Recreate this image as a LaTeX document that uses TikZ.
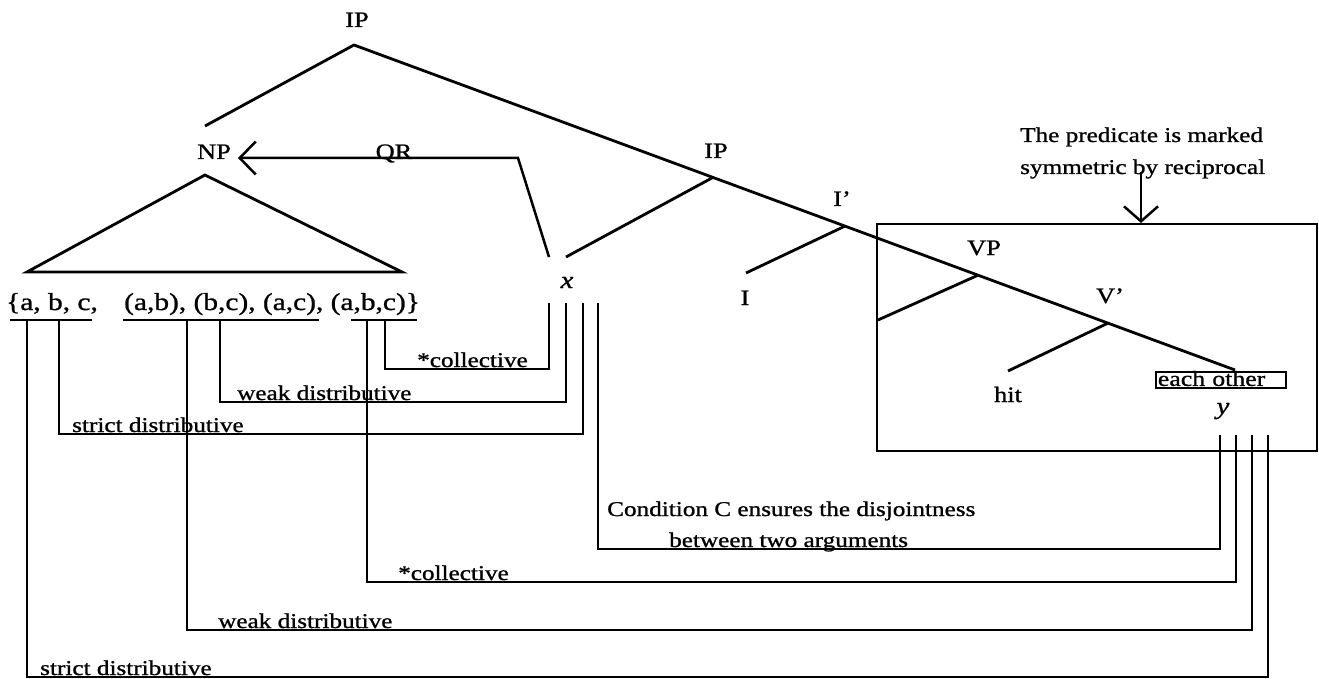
\documentclass[tikz,border=0pt]{standalone}
\usepackage{fontspec}
\setmainfont{Liberation Serif}[FakeStretch=1.2,FakeBold=1]
\usetikzlibrary{arrows.meta}
\newcommand\fsTree{\fontsize{22}{26}\selectfont}
\newcommand\fsSet{\fontsize{24.5}{28}\selectfont}
\newcommand\fsLab{\fontsize{21}{25}\selectfont}
\begin{document}
\begin{tikzpicture}[x=1pt,y=-1pt,
  tree/.style={line width=2.8pt},
  link/.style={line width=1.8pt},
  uline/.style={line width=2.4pt},
  lbl/.style={inner sep=0pt, anchor=base, font=\fsTree},
  note/.style={inner sep=0pt, anchor=base west, font=\fsLab},
  setrow/.style={inner sep=0pt, anchor=base west, font=\fsSet},
  barbarrow/.style={-{Straight Barb[length=16pt,width=33pt,line width=2.5pt]}}]
\useasboundingbox (0,0) rectangle (1319,679);
\fill[white] (0,0) rectangle (1319,679);

% ---------- tree ----------
\coordinate (A) at (354,45);
\coordinate (E) at (1235,370);
\coordinate (jIP) at (713,177.4);
\coordinate (jI) at (845,226.1);
\coordinate (jVP) at (978,275.2);
\coordinate (jV) at (1108,323.1);
\coordinate (npTop) at (205,126);
\coordinate (xTop) at (566,257);
\coordinate (iTop) at (746,273);
\coordinate (vpEnd) at (878,320);
\coordinate (hitTop) at (1008,371);

\node[lbl] (ipTop) at (357,27) {IP};
\node[lbl] (np) at (214,159) {NP};
\node[lbl] (ip2) at (716,158) {IP};
\node[lbl] (ibar) at (842,206) {I'};
\node[lbl] (vp) at (984,255) {VP};
\node[lbl] (vbar) at (1110,303) {V'};
\node[lbl] (ilab) at (745,305) {I};
\node[lbl] (hit) at (1008,402) {hit};
\node[lbl, font=\fontsize{24}{28}\selectfont\itshape] (xv) at (567,288) {x};
\node[lbl, font=\fontsize{24}{28}\selectfont\itshape] (yv) at (1223,414) {y};

\draw[tree, line join=round] (npTop) -- (A) -- (E);
\draw[tree] (jIP) -- (xTop);
\draw[tree] (jI) -- (iTop);
\draw[tree] (jVP) -- (vpEnd);
\draw[tree] (jV) -- (hitTop);

% NP triangle
\coordinate (tA) at (205,175);
\coordinate (tL) at (27,272);
\coordinate (tR) at (402,272);
\draw[tree, line join=miter] (tA) -- (tL) -- (tR) -- cycle;

% QR movement arrow
\coordinate (qrStart) at (549,257);
\coordinate (qrBend) at (518,158);
\coordinate (qrTip) at (238,158);
\draw[line width=2.5pt, barbarrow] (qrStart) -- (qrBend) -- (qrTip);
\node[lbl] (qr) at (394,159) {QR};

% box round the VP
\coordinate (boxNW) at (877,224);
\coordinate (boxSE) at (1317,451);
\draw[line width=2pt] (boxNW) rectangle (boxSE);

% note above the box
\node[note] (pred1) at (1020,142) {The predicate is marked};
\node[note] (pred2) at (1020,174) {symmetric by reciprocal};
\coordinate (predFrom) at (1141,172);
\coordinate (predTo) at (1141,223);
\draw[line width=2pt, -{Straight Barb[length=15pt,width=34pt,line width=2.5pt]}] (predFrom) -- (predTo);

% each other
\node[draw, line width=1.8pt, anchor=north west, inner xsep=2pt, inner ysep=0pt,
      text width=126pt, text height=14pt, text depth=2pt,
      font=\fontsize{21.5}{24}\selectfont] (eo) at (1155,371) {each other};

% ---------- set row ----------
\node[setrow] (s1) at (6,310) {\{a, b, c,};
\node[setrow] (s2) at (124,310) {(a,b), (b,c), (a,c), (a,b,c)\}};
\draw[uline] (10,320) -- (92,320);
\draw[uline] (123,320) -- (319,320);
\draw[uline] (351,320) -- (417,320);

% drop points
\coordinate (d1) at (27,320);
\coordinate (d2) at (59,320);
\coordinate (d3) at (187,320);
\coordinate (d4) at (220,320);
\coordinate (d5) at (367,320);
\coordinate (d6) at (385,320);
% x lines
\coordinate (xa) at (549,303);
\coordinate (xb) at (566,303);
\coordinate (xc) at (583,303);
\coordinate (xd) at (598,303);
% y lines
\coordinate (ya) at (1220,435);
\coordinate (yb) at (1236,435);
\coordinate (yc) at (1252,435);
\coordinate (yd) at (1268,435);
% levels
\coordinate (h1) at (0,369);
\coordinate (h2) at (0,402);
\coordinate (h3) at (0,434);
\coordinate (h4) at (0,549);
\coordinate (h5) at (0,582);
\coordinate (h6) at (0,630);
\coordinate (h7) at (0,677);

\draw[link] (d6) -- (d6|-h1) -| (xa);
\draw[link] (d4) -- (d4|-h2) -| (xb);
\draw[link] (d2) -- (d2|-h3) -| (xc);
\draw[link] (xd) -- (xd|-h4) -| (ya);
\draw[link] (d5) -- (d5|-h5) -| (yb);
\draw[link] (d3) -- (d3|-h6) -| (yc);
\draw[link] (d1) -- (d1|-h7) -| (yd);

\node[note] (c1) at (417,367) {*collective};
\node[note] (w1) at (237,400) {weak distributive};
\node[note] (st1) at (72,432) {strict distributive};
\node[note] (cond1) at (607,516) {Condition C ensures the disjointness};
\node[note] (cond2) at (669,547) {between two arguments};
\node[note] (c2) at (398,580) {*collective};
\node[note] (w2) at (218,628) {weak distributive};
\node[note] (st2) at (40,675) {strict distributive};
\end{tikzpicture}
\end{document}
